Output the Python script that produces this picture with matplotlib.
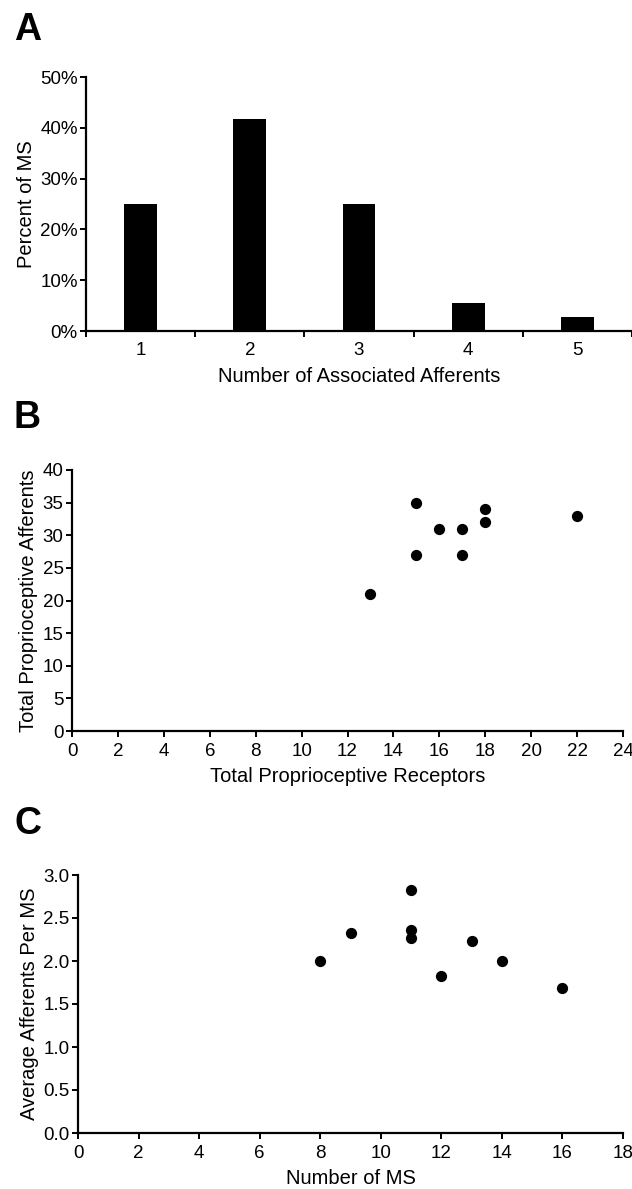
import matplotlib
matplotlib.use("Agg")
import matplotlib.pyplot as plt
from matplotlib.ticker import FuncFormatter

plt.rcParams["font.family"] = ["Liberation Sans", "DejaVu Sans"]

# panel A: distribution of afferents per muscle spindle
n_afferents = [1, 2, 3, 4, 5]
pct_ms = [25.0, 41.7, 25.0, 5.6, 2.8]

# panel B: receptors vs afferents
receptors = [13, 15, 15, 16, 17, 17, 18, 18, 22]
afferents = [21, 35, 27, 31, 31, 27, 34, 32, 33]

# panel C: number of MS vs average afferents per MS
num_ms = [8, 9, 11, 11, 11, 12, 13, 14, 16]
avg_aff = [2.00, 2.33, 2.82, 2.36, 2.27, 1.83, 2.23, 2.00, 1.69]

W, H = 632, 1189
fig = plt.figure(figsize=(W / 100, H / 100), dpi=100)

TICK_FS = 13.5
LABEL_FS = 14.5


def axes_px(left, top, right, bottom):
    return fig.add_axes([left / W, 1 - bottom / H, (right - left) / W, (bottom - top) / H])


def style(ax):
    for s in ["top", "right"]:
        ax.spines[s].set_visible(False)
    for s in ["left", "bottom"]:
        ax.spines[s].set_linewidth(1.6)
    ax.tick_params(direction="out", length=4, width=1.4, labelsize=TICK_FS)
    ax.tick_params(axis="y", pad=2)
    ax.tick_params(axis="x", pad=5)


# A
axA = axes_px(86, 77, 632, 331)
axA.bar(n_afferents, pct_ms, width=0.3, color="black")
axA.set_xlim(0.5, 5.5)
axA.set_ylim(0, 50)
axA.set_yticks([0, 10, 20, 30, 40, 50])
axA.yaxis.set_major_formatter(FuncFormatter(lambda v, p: f"{v:.0f}%"))
style(axA)
axA.set_xticks(n_afferents)
axA.set_xticks([0.5, 1.5, 2.5, 3.5, 4.5, 5.5], minor=True)
axA.tick_params(axis="x", which="major", length=0, pad=8)
axA.tick_params(axis="x", which="minor", direction="out", length=4, width=1.4)
axA.set_xlabel("Number of Associated Afferents", fontsize=LABEL_FS, labelpad=6)
axA.set_ylabel("Percent of MS", fontsize=LABEL_FS, labelpad=3)
fig.text(14 / W, 1 - 12 / H, "A", fontsize=27, fontweight="bold", va="top", ha="left")

# B
axB = axes_px(72, 470, 623, 731)
axB.scatter(receptors, afferents, s=50, color="black", zorder=3, clip_on=False)
axB.set_xlim(0, 24)
axB.set_ylim(0, 40)
axB.set_xticks(range(0, 25, 2))
axB.set_yticks(range(0, 41, 5))
style(axB)
axB.set_xlabel("Total Proprioceptive Receptors", fontsize=LABEL_FS, labelpad=5)
axB.set_ylabel("Total Proprioceptive Afferents", fontsize=LABEL_FS, labelpad=3)
fig.text(14 / W, 1 - 400 / H, "B", fontsize=27, fontweight="bold", va="top", ha="left")

# C
axC = axes_px(78, 875, 623, 1133)
axC.scatter(num_ms, avg_aff, s=50, color="black", zorder=3, clip_on=False)
axC.set_xlim(0, 18)
axC.set_ylim(0, 3.0)
axC.set_xticks(range(0, 19, 2))
axC.set_yticks([0.0, 0.5, 1.0, 1.5, 2.0, 2.5, 3.0])
axC.yaxis.set_major_formatter(FuncFormatter(lambda v, p: f"{v:.1f}"))
style(axC)
axC.set_xlabel("Number of MS", fontsize=LABEL_FS, labelpad=5)
axC.set_ylabel("Average Afferents Per MS", fontsize=LABEL_FS, labelpad=3)
fig.text(14 / W, 1 - 806 / H, "C", fontsize=27, fontweight="bold", va="top", ha="left")

fig.savefig("out.png", dpi=100)
